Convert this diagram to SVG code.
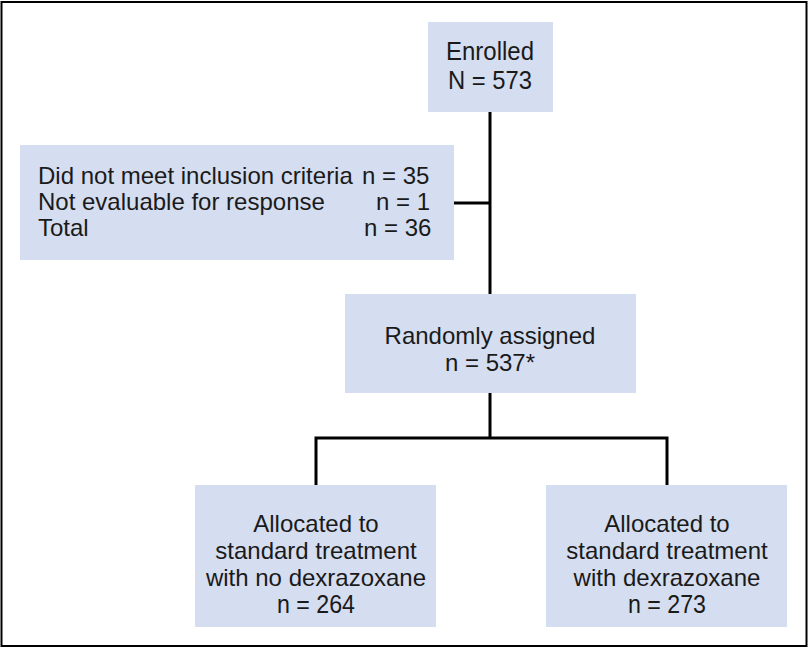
<svg xmlns="http://www.w3.org/2000/svg" width="809" height="650" viewBox="0 0 809 650">
<style>
.box{fill:#d5ddf0;stroke:none}
.t{font-family:"Liberation Sans",Arial,sans-serif;font-size:24px;fill:#1a1a1a}
.n{font-family:"Liberation Sans",Arial,sans-serif;font-size:25px;fill:#1a1a1a}
.c{text-anchor:middle}
.ln{stroke:#000;stroke-width:3;fill:none}
</style>
<rect x="1.5" y="2" width="805" height="644" fill="#fff" stroke="#000" stroke-width="2"/>
<g id="connectors">
<path class="ln" d="M490 112 V294"/>
<path class="ln" d="M454 203 H490"/>
<path class="ln" d="M490 393 V438"/>
<path class="ln" d="M316 485 V438 H667 V485"/>
</g>
<g id="enrolled">
<rect class="box" x="428" y="22" width="125" height="90"/>
<text class="n c" x="490" y="60" textLength="88" lengthAdjust="spacingAndGlyphs">Enrolled</text>
<text class="n c" x="490" y="89" textLength="84" lengthAdjust="spacingAndGlyphs">N = 573</text>
</g>
<g id="excluded">
<rect class="box" x="20" y="145" width="434" height="115"/>
<text class="t" x="38" y="184">Did not meet inclusion criteria</text>
<text class="t" x="362" y="184">n = 35</text>
<text class="t" x="38" y="210">Not evaluable for response</text>
<text class="t" x="376" y="210">n = 1</text>
<text class="t" x="38" y="236">Total</text>
<text class="t" x="364" y="236">n = 36</text>
</g>
<g id="randomized">
<rect class="box" x="345" y="294" width="291" height="99"/>
<text class="t c" x="490" y="344">Randomly assigned</text>
<text class="t c" x="490" y="371">n = 537*</text>
</g>
<g id="arm-no-dex">
<rect class="box" x="195" y="485" width="241" height="142"/>
<text class="t c" x="316" y="532">Allocated to</text>
<text class="t c" x="316" y="559">standard treatment</text>
<text class="t c" x="316" y="586">with no dexrazoxane</text>
<text class="n c" x="316" y="613" textLength="78" lengthAdjust="spacingAndGlyphs">n = 264</text>
</g>
<g id="arm-dex">
<rect class="box" x="546" y="485" width="241" height="142"/>
<text class="t c" x="667" y="532">Allocated to</text>
<text class="t c" x="667" y="559">standard treatment</text>
<text class="t c" x="667" y="586">with dexrazoxane</text>
<text class="n c" x="667" y="613" textLength="78" lengthAdjust="spacingAndGlyphs">n = 273</text>
</g>
</svg>
